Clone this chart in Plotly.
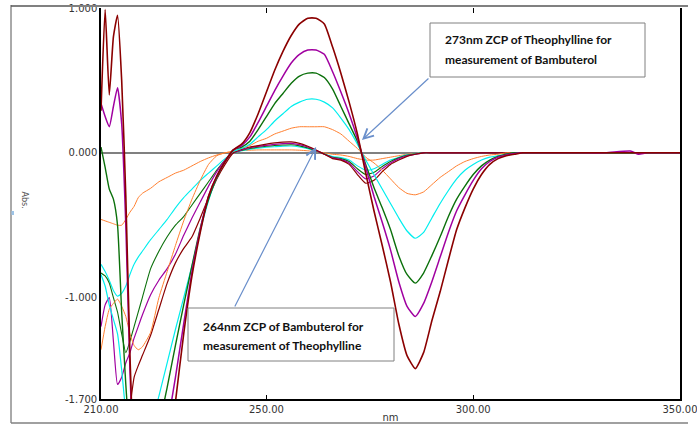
import plotly.graph_objects as go

# wavelength grid (nm)
WL = [210, 211, 212, 213, 214, 215, 216, 217, 218, 219, 220,
      222, 224, 226, 228, 230, 232, 234, 236, 238, 240,
      242, 244, 246, 248, 250, 252, 254, 256, 258, 260,
      262, 264, 266, 268, 270, 272, 274, 276, 278, 280,
      282, 284, 286, 288, 290, 292, 294, 296, 298, 300,
      302, 304, 306, 308, 310, 312,
      318, 325, 332, 338, 340, 342, 350]

# Theophylline-type derivative spectra (large)
theo_1 = [-1.36, -1.20, -1.08, -1.04, -1.01, -1.06, -1.13, -1.25, -1.33, -1.36, -1.34,
          -1.24, -1.00, -0.82, -0.64, -0.47, -0.32, -0.19, -0.08, -0.02, 0.0,
          0.01, 0.03, 0.05, 0.08, 0.10, 0.13, 0.15, 0.17, 0.18, 0.18,
          0.18, 0.18, 0.16, 0.13, 0.08, 0.03, -0.03, -0.07, -0.12, -0.18,
          -0.24, -0.28, -0.29, -0.27, -0.22, -0.17, -0.13, -0.09, -0.06, -0.04,
          -0.025, -0.015, -0.01, 0.0, 0.0, 0.0,
          0.0, 0.0, 0.0, 0.0, 0.0, 0.0, 0.0]
theo_2 = [-0.84, -0.92, -1.05, -1.15, -1.25, -1.50, -1.80, -2.10, -2.30, -2.40, -2.40,
          -1.90, -1.68, -1.45, -1.22, -1.00, -0.78, -0.54, -0.33, -0.17, -0.06,
          0.01, 0.03, 0.06, 0.11, 0.16, 0.22, 0.27, 0.32, 0.35, 0.37,
          0.37, 0.35, 0.31, 0.24, 0.16, 0.06, -0.05, -0.15, -0.25, -0.35,
          -0.45, -0.54, -0.59, -0.55, -0.45, -0.35, -0.26, -0.18, -0.12, -0.08,
          -0.05, -0.03, -0.02, -0.01, 0.0, 0.0,
          0.0, 0.0, 0.0, 0.0, 0.0, 0.0, 0.0]
theo_3 = [0.04, -0.10, -0.25, -0.32, -0.50, -1.10, -1.60, -2.00, -2.20, -2.40, -2.50,
          -2.40, -1.90, -1.62, -1.33, -1.05, -0.78, -0.52, -0.32, -0.17, -0.06,
          0.02, 0.04, 0.08, 0.16, 0.25, 0.34, 0.41, 0.48, 0.53, 0.55,
          0.55, 0.52, 0.44, 0.32, 0.20, 0.08, -0.08, -0.24, -0.38, -0.53,
          -0.71, -0.84, -0.90, -0.83, -0.71, -0.58, -0.44, -0.32, -0.23, -0.15,
          -0.09, -0.05, -0.025, -0.01, 0.0, 0.0,
          0.0, 0.0, 0.0, 0.0, 0.0, 0.0, 0.0]
theo_4 = [0.34, 0.25, 0.18, 0.32, 0.45, 0.20, -0.50, -1.50, -2.20, -2.50, -2.60,
          -2.60, -2.30, -1.90, -1.55, -1.18, -0.82, -0.53, -0.30, -0.16, -0.06,
          0.02, 0.05, 0.11, 0.21, 0.32, 0.43, 0.53, 0.62, 0.68, 0.71,
          0.71, 0.68, 0.56, 0.42, 0.27, 0.10, -0.10, -0.30, -0.48, -0.67,
          -0.89, -1.06, -1.13, -1.04, -0.89, -0.72, -0.55, -0.40, -0.29, -0.19,
          -0.11, -0.06, -0.03, -0.015, -0.005, 0.0,
          0.0, 0.0, 0.0, 0.012, -0.01, 0.0, 0.0]
theo_5 = [0.29, 0.99, 0.40, 0.80, 0.95, 0.50, -0.30, -1.40, -2.20, -2.60, -2.80,
          -2.80, -2.60, -2.20, -1.72, -1.25, -0.85, -0.55, -0.30, -0.16, -0.06,
          0.02, 0.06, 0.14, 0.27, 0.42, 0.57, 0.70, 0.81, 0.89, 0.93,
          0.93, 0.89, 0.73, 0.55, 0.35, 0.13, -0.14, -0.40, -0.64, -0.89,
          -1.18, -1.40, -1.49, -1.38, -1.16, -0.96, -0.74, -0.53, -0.38, -0.25,
          -0.15, -0.08, -0.04, -0.02, -0.01, 0.0,
          0.0, 0.0, 0.0, 0.0, 0.0, 0.0, 0.0]

# Bambuterol-type derivative spectra (small)
bamb_1 = [-0.46, -0.47, -0.48, -0.49, -0.50, -0.50, -0.46, -0.41, -0.37, -0.31, -0.28,
          -0.245, -0.20, -0.17, -0.14, -0.12, -0.09, -0.06, -0.035, -0.015, 0.0,
          0.01, 0.015, 0.018, 0.02, 0.02, 0.02, 0.02, 0.02, 0.018, 0.014,
          0.008, 0.0, -0.01, -0.015, -0.025, -0.04, -0.05, -0.05, -0.04, -0.03,
          -0.02, -0.01, -0.005, 0.0, 0.0, 0.0, 0.0, 0.0, 0.0, 0.0,
          0.0, 0.0, 0.0, 0.0, 0.0, 0.0,
          0.0, 0.0, 0.0, 0.0, 0.0, 0.0, 0.0]
bamb_2 = [-0.77, -0.82, -0.88, -0.95, -0.99, -0.97, -0.92, -0.84, -0.77, -0.72, -0.68,
          -0.60, -0.53, -0.46, -0.38, -0.31, -0.25, -0.19, -0.14, -0.09, -0.04,
          0.0, 0.014, 0.025, 0.032, 0.038, 0.042, 0.046, 0.047, 0.04, 0.028,
          0.012, -0.007, -0.025, -0.033, -0.05, -0.09, -0.12, -0.11, -0.08, -0.05,
          -0.03, -0.014, -0.006, 0.0, 0.0, 0.0, 0.0, 0.0, 0.0, 0.0,
          0.0, 0.0, 0.0, 0.0, 0.0, 0.0,
          0.0, 0.0, 0.0, 0.0, 0.0, 0.0, 0.0]
bamb_3 = [-0.83, -0.85, -0.90, -1.00, -1.10, -1.25, -1.38, -1.30, -1.20, -1.10, -1.00,
          -0.80, -0.68, -0.58, -0.50, -0.44, -0.36, -0.28, -0.20, -0.12, -0.05,
          0.0, 0.017, 0.03, 0.038, 0.045, 0.05, 0.054, 0.056, 0.048, 0.034,
          0.014, -0.008, -0.03, -0.04, -0.06, -0.11, -0.15, -0.135, -0.095, -0.06,
          -0.035, -0.017, -0.008, 0.0, 0.0, 0.0, 0.0, 0.0, 0.0, 0.0,
          0.0, 0.0, 0.0, 0.0, 0.0, 0.0,
          0.0, 0.0, 0.0, 0.0, 0.0, 0.0, 0.0]
bamb_4 = [-1.20, -1.05, -1.00, -1.30, -1.60, -1.55, -1.45, -1.38, -1.28, -1.20, -1.12,
          -0.98, -0.88, -0.80, -0.70, -0.57, -0.45, -0.34, -0.23, -0.13, -0.05,
          0.0, 0.02, 0.035, 0.045, 0.052, 0.058, 0.063, 0.065, 0.056, 0.04,
          0.017, -0.01, -0.035, -0.045, -0.07, -0.13, -0.18, -0.16, -0.11, -0.07,
          -0.04, -0.02, -0.01, 0.0, 0.0, 0.0, 0.0, 0.0, 0.0, 0.0,
          0.0, 0.0, 0.0, 0.0, 0.0, 0.0,
          0.0, 0.0, 0.0, 0.0, 0.0, 0.0, 0.0]
bamb_5 = [-1.90, -1.95, -2.00, -2.00, -1.95, -1.90, -1.85, -1.75, -1.55, -1.47, -1.40,
          -1.26, -1.08, -0.90, -0.76, -0.66, -0.58, -0.45, -0.31, -0.18, -0.08,
          0.0, 0.025, 0.04, 0.05, 0.06, 0.068, 0.074, 0.075, 0.065, 0.045,
          0.02, -0.01, -0.04, -0.05, -0.08, -0.15, -0.21, -0.19, -0.13, -0.08,
          -0.05, -0.025, -0.01, 0.0, 0.0, 0.0, 0.0, 0.0, 0.0, 0.0,
          0.0, 0.0, 0.0, 0.0, 0.0, 0.0,
          0.0, 0.0, 0.0, 0.0, -0.006, 0.0, 0.0]

COLORS = ["#FF8030", "#00EEEE", "#0B700B", "#A000A0", "#8B0000"]

X_TICKS = [210, 250, 300, 350]
X_TICKTEXT = ["210.00", "250.00", "300.00", "350.00"]
Y_TICKS = [1.0, 0.0, -1.0, -1.7]
Y_TICKTEXT = ["1.000", "0.000", "-1.000", "-1.700"]

fig = go.Figure()
for ys, c, w in zip([bamb_1, bamb_2, bamb_3, bamb_4, bamb_5], COLORS, [1.0, 1.1, 1.1, 1.2, 1.2]):
    fig.add_trace(go.Scatter(x=WL, y=ys, mode="lines", line=dict(color=c, width=w, shape="spline", smoothing=0.5),
                             showlegend=False, hoverinfo="skip"))
for ys, c, w in zip([theo_1, theo_2, theo_3, theo_4, theo_5], COLORS, [1.0, 1.2, 1.4, 1.5, 1.6]):
    fig.add_trace(go.Scatter(x=WL, y=ys, mode="lines", line=dict(color=c, width=w, shape="spline", smoothing=0.5),
                             showlegend=False, hoverinfo="skip"))

tick_font = dict(family="DejaVu Sans", size=10, color="#333333")

fig.update_layout(
    width=697, height=426,
    margin=dict(l=101, r=17, t=8, b=27, autoexpand=False),
    paper_bgcolor="white", plot_bgcolor="white",
    xaxis=dict(range=[210, 350], tickvals=X_TICKS, ticktext=X_TICKTEXT, ticks="inside", ticklen=4,
               tickcolor="black", showline=True, linecolor="black", linewidth=1.5, showgrid=False,
               zeroline=False, tickfont=tick_font, ticklabeloverflow="allow",
               title=dict(text="nm", font=dict(family="DejaVu Sans", size=10, color="#333333"), standoff=0)),
    xaxis2=dict(overlaying="x", matches="x", side="top", range=[210, 350], tickvals=[250, 300],
                ticks="inside", ticklen=5, tickcolor="black", showticklabels=False, showline=False,
                showgrid=False, zeroline=False),
    yaxis=dict(range=[-1.7, 1.0], tickvals=Y_TICKS, ticktext=Y_TICKTEXT, ticks="", showline=True,
               linecolor="black", linewidth=1.5, mirror=True, showgrid=False, zeroline=True,
               zerolinecolor="#808080", zerolinewidth=2, tickfont=tick_font, ticklabeloverflow="allow"),
)
# empty trace that activates the top axis ticks
fig.add_trace(go.Scatter(x=[210, 350], y=[None, None], xaxis="x2", mode="lines", showlegend=False,
                         hoverinfo="skip"))


def px_x(p):
    return (p - 101) / 579.0


def px_y(p):
    return (399 - p) / 391.0


shapes = [
    dict(type="line", xref="paper", yref="paper", x0=px_x(11), x1=px_x(688), y0=px_y(6), y1=px_y(6),
         line=dict(color="#808080", width=2)),
    dict(type="line", xref="paper", yref="paper", x0=px_x(11), x1=px_x(11), y0=px_y(5), y1=px_y(423),
         line=dict(color="#555555", width=1)),
    dict(type="line", xref="paper", yref="paper", x0=px_x(11), x1=px_x(688), y0=px_y(423), y1=px_y(423),
         line=dict(color="#808080", width=1.5)),
    dict(type="rect", xref="paper", yref="paper", x0=px_x(11.5), x1=px_x(14), y0=px_y(215), y1=px_y(211),
         fillcolor="#9DC3E6", line=dict(width=0)),
    dict(type="rect", xref="paper", yref="paper", x0=px_x(430), x1=px_x(645), y0=px_y(77), y1=px_y(23),
         fillcolor="white", line=dict(color="#808080", width=1), layer="above"),
    dict(type="rect", xref="paper", yref="paper", x0=px_x(188), x1=px_x(394), y0=px_y(361), y1=px_y(308),
         fillcolor="white", line=dict(color="#808080", width=1), layer="above"),
]
fig.update_layout(shapes=shapes)

box_font = dict(family="Lato", size=12, color="#111111")
anns = [
    dict(xref="paper", yref="paper", x=px_x(443), y=px_y(39), text="<b>273nm ZCP of Theophylline for</b>",
         showarrow=False, xanchor="left", yanchor="middle", font=box_font),
    dict(xref="paper", yref="paper", x=px_x(443), y=px_y(59), text="<b>measurement of Bambuterol</b>",
         showarrow=False, xanchor="left", yanchor="middle", font=box_font),
    dict(xref="paper", yref="paper", x=px_x(201), y=px_y(326), text="<b>264nm ZCP of Bambuterol for</b>",
         showarrow=False, xanchor="left", yanchor="middle", font=box_font),
    dict(xref="paper", yref="paper", x=px_x(201), y=px_y(345), text="<b>measurement of Theophylline</b>",
         showarrow=False, xanchor="left", yanchor="middle", font=box_font),
    dict(x=273.1, y=0.088, xref="x", yref="y", ax=68, ay=-63, text="", showarrow=True,
         arrowhead=5, arrowsize=1.6, arrowwidth=1.2, arrowcolor="#6A8FCB"),
    dict(x=262.0, y=0.04, xref="x", yref="y", ax=-82, ay=161, text="", showarrow=True,
         arrowhead=5, arrowsize=1.6, arrowwidth=1.2, arrowcolor="#6A8FCB"),
    dict(xref="paper", yref="paper", x=px_x(18), y=px_y(200), text="Abs.", showarrow=False,
         textangle=90, font=dict(family="DejaVu Sans", size=8, color="#555555")),
]
fig.update_layout(annotations=anns)

fig.write_html("out.html", config={"displayModeBar": False},
               post_script="document.body.style.margin='0';")
